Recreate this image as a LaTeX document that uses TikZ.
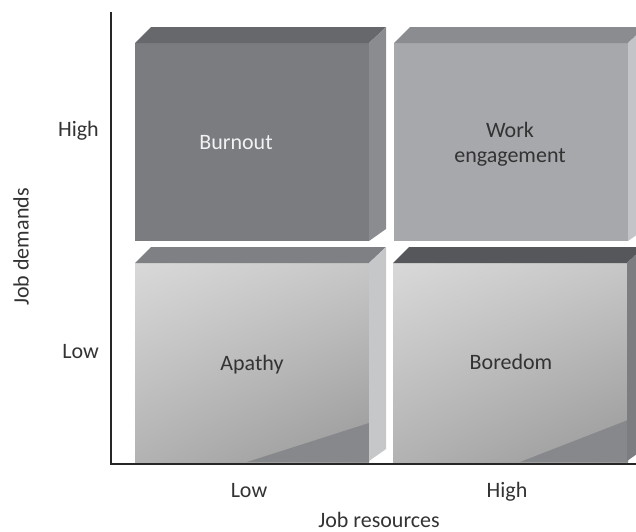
\documentclass[tikz,border=0pt]{standalone}
\usepackage{fontspec}
\setmainfont{Carlito}
\usetikzlibrary{shadings}

\definecolor{burnfront}{HTML}{7B7C80}
\definecolor{burntop}{HTML}{67686C}
\definecolor{burnside}{HTML}{8B8C90}
\definecolor{engfront}{HTML}{A7A8AC}
\definecolor{engtop}{HTML}{8B8C90}
\definecolor{engside}{HTML}{C3C4C7}
\definecolor{apatop}{HTML}{7F8084}
\definecolor{apaside}{HTML}{C6C7C9}
\definecolor{bortop}{HTML}{56575B}
\definecolor{borside}{HTML}{7C7D81}
\definecolor{lowcorner}{HTML}{87888C}
\definecolor{inktext}{HTML}{333333}

\begin{document}
\begin{tikzpicture}[x=1pt, y=-1pt,
		axislabel/.style={font=\fontsize{22}{25}\selectfont, text=inktext, anchor=base, inner sep=0pt},
		boxtext/.style={font=\fontsize{22}{25}\selectfont, align=center, text=inktext, anchor=base, inner sep=0pt},
		axisline/.style={line width=2.2pt, draw=black!85},
		lowfront/.style={upper left=black!15, upper right=black!22, lower left=black!30, lower right=black!40}]
	\clip (0,0) rectangle (636,531);

	% front faces of the four blocks
	\fill[burnfront] (135,43) rectangle ++(234,198);
	\fill[engfront] (394,43) rectangle ++(234,198);
	\shade[lowfront] (135,263) rectangle ++(234,199);
	\shade[lowfront] (393,263) rectangle ++(235,199);
	\fill[lowcorner] (247,462) -- (369,462) -- (369,423) -- cycle;
	\fill[lowcorner] (520,462) -- (628,462) -- (628,420) -- cycle;

	% top and side faces
	\foreach \x/\y/\topc/\sidec in {135/43/burntop/burnside, 394/43/engtop/engside,
			135/263/apatop/apaside, 393/263/bortop/borside} {
		\fill[\topc] (\x,\y) -- ++(16,-16) -- ++(235,0) -- ++(-17,16) -- cycle;
		\fill[\sidec] (\x+234,\y) -- ++(17,-16) -- ++(0,202) -- ++(-17,12) -- cycle;
	}

	% axes
	\coordinate (ytop) at (111,12);
	\coordinate (origin) at (111,464);
	\coordinate (xend) at (636,464);
	\draw[axisline] (ytop) -- (origin) -- (xend);

	% quadrant names (base of a two-line node is its last line)
	\node[boxtext, text=white!95!black] (burnout) at (236,149) {Burnout};
	\node[boxtext] (engagement) at (510,162) {Work\\engagement};
	\node[boxtext] (apathy) at (252,370) {Apathy};
	\node[boxtext] (boredom) at (511,369) {Boredom};

	% axis labels
	\node[axislabel, anchor=base east] (dhigh) at (99,136) {High};
	\node[axislabel, anchor=base east] (dlow) at (99,358) {Low};
	\node[axislabel, rotate=90, anchor=center] (demands) at (21,247) {Job demands};
	\node[axislabel] (rlow) at (249,497) {Low};
	\node[axislabel] (rhigh) at (507,497) {High};
	\node[axislabel] (resources) at (379,527) {Job resources};
\end{tikzpicture}
\end{document}
